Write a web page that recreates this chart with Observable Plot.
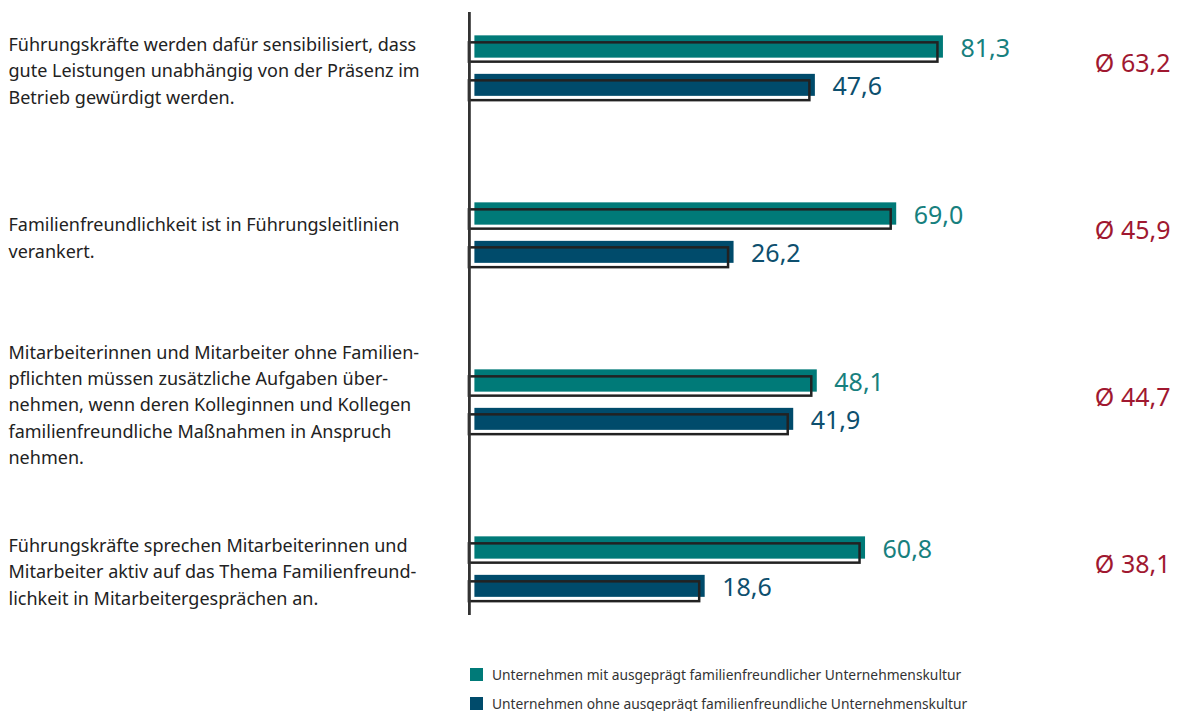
<!DOCTYPE html>
<html>
<head>
<meta charset="utf-8">
<script src="https://cdn.jsdelivr.net/npm/d3@7"></script>
<script src="https://cdn.jsdelivr.net/npm/@observablehq/plot@0.6"></script>
<style>
  html, body { margin: 0; padding: 0; background: #fff; }
  body { width: 1179px; height: 711px; overflow: hidden; font-family: "Noto Sans", sans-serif; }
  #legend { position: relative; height: 56px; font-size: 13.8px; color: #333; }
  .item { position: absolute; left: 470px; display: flex; align-items: center; height: 20px; }
  .sw { width: 13px; height: 13px; margin-right: 9px; }
</style>
</head>
<body>
<div id="chart"></div>
<div id="legend"></div>
<script>
// ---- data ----
const categories = [
  "Führungskräfte werden dafür sensibilisiert, dass\ngute Leistungen unabhängig von der Präsenz im\nBetrieb gewürdigt werden.",
  "Familienfreundlichkeit ist in Führungsleitlinien\nverankert.",
  "Mitarbeiterinnen und Mitarbeiter ohne Familien-\npflichten müssen zusätzliche Aufgaben über-\nnehmen, wenn deren Kolleginnen und Kollegen\nfamilienfreundliche Maßnahmen in Anspruch\nnehmen.",
  "Führungskräfte sprechen Mitarbeiterinnen und\nMitarbeiter aktiv auf das Thema Familienfreund-\nlichkeit in Mitarbeitergesprächen an."
];
const valuesMit = [81.3, 69.0, 48.1, 60.8];
const valuesOhne = [47.6, 26.2, 41.9, 18.6];
const averages = [63.2, 45.9, 44.7, 38.1];
const seriesNames = [
  "Unternehmen mit ausgeprägt familienfreundlicher Unternehmenskultur",
  "Unternehmen ohne ausgeprägt familienfreundliche Unternehmenskultur"
];
const colors = ["#007a78", "#004b6b"];
const labelColors = ["#17807e", "#0d4f6e"];
const avgColor = "#a01830";
const xBase = -42; // bars begin at this (truncated) axis value

const fmt = v => v.toFixed(1).replace(".", ",");
const rows = categories.map((c, i) => ({
  cat: c, mit: valuesMit[i], ohne: valuesOhne[i], avg: averages[i]
}));

const W = 1179, H = 655;
const half = 83.85;

const chart = Plot.plot({
  width: W,
  height: H,
  marginTop: 12,
  marginBottom: 40,
  marginLeft: 8,
  marginRight: 9,
  style: { fontFamily: "Noto Sans", background: "#fff" },
  x: { domain: [-42, 82], range: [474.4, 945.6], axis: null },
  y: { domain: categories, range: [64 - half, 64 - half + 4 * 2 * half], padding: 0, axis: null },
  marks: [
    // filled bars
    Plot.barX(rows, { x1: xBase, x2: "mit", y: "cat", fill: colors[0], insetTop: 53.35, insetBottom: 91.35 }),
    Plot.barX(rows, { x1: xBase, x2: "ohne", y: "cat", fill: colors[1], insetTop: 91.85, insetBottom: 53.15 }),
    // offset outlines
    Plot.barX(rows, { x1: xBase, x2: "mit", y: "cat", fill: "none", stroke: "#222", strokeWidth: 2.5, dx: -5.5, insetTop: 60.35, insetBottom: 87.35 }),
    Plot.barX(rows, { x1: xBase, x2: "ohne", y: "cat", fill: "none", stroke: "#222", strokeWidth: 2.5, dx: -5.5, insetTop: 98.35, insetBottom: 48.85 }),
    // axis line
    Plot.ruleX([xBase], { dx: -5.5, stroke: "#333", strokeWidth: 2.8 }),
    // value labels
    Plot.text(rows, { x: "mit", y: "cat", text: d => fmt(d.mit), textAnchor: "start", dx: 17, dy: -17, fill: labelColors[0], fontSize: 25 }),
    Plot.text(rows, { x: "ohne", y: "cat", text: d => fmt(d.ohne), textAnchor: "start", dx: 17, dy: 21, fill: labelColors[1], fontSize: 25 }),
    // averages
    Plot.text(rows, { y: "cat", frameAnchor: "right", textAnchor: "end", text: d => "Ø " + fmt(d.avg), dy: -2, fill: avgColor, fontSize: 25 }),
    // category labels
    Plot.text(rows, { y: "cat", frameAnchor: "left", textAnchor: "start", text: "cat", lineAnchor: "middle", lineHeight: 1.47, dy: 3, fill: "#222", fontSize: 18 })
  ]
});
document.getElementById("chart").appendChild(chart);

const legend = document.getElementById("legend");
seriesNames.forEach((name, i) => {
  const it = document.createElement("div");
  it.className = "item";
  it.style.top = (9 + i * 29) + "px";
  const sw = document.createElement("div");
  sw.className = "sw";
  sw.style.background = colors[i];
  const t = document.createElement("span");
  t.textContent = name;
  it.appendChild(sw);
  it.appendChild(t);
  legend.appendChild(it);
});
</script>
</body>
</html>
